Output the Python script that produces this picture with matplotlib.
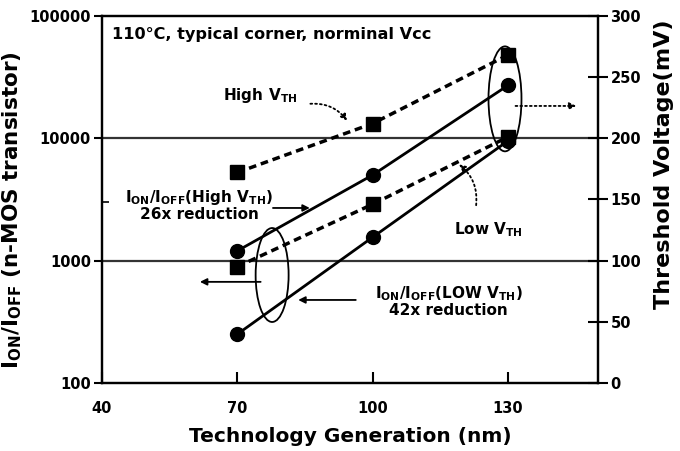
import matplotlib
matplotlib.use('Agg')
import matplotlib.pyplot as plt
from matplotlib.patches import Ellipse

plt.rcParams['font.family'] = ['DejaVu Sans']
plt.rcParams['font.weight'] = 'bold'
plt.rcParams['mathtext.fontset'] = 'custom'
plt.rcParams['mathtext.rm'] = 'DejaVu Sans:bold'
plt.rcParams['mathtext.bf'] = 'DejaVu Sans:bold'
plt.rcParams['mathtext.it'] = 'DejaVu Sans:bold'

# data
gen = [70, 100, 130]
ratio_high_vth = [1200, 5000, 27000]   # I_ON/I_OFF, circles (left axis)
ratio_low_vth = [250, 1550, 9500]
vth_high = [172, 212, 268]             # threshold voltage mV, squares (right axis)
vth_low = [95, 146, 201]

x_ticks = [40, 70, 100, 130]
left_ticks = [100, 1000, 10000, 100000]
right_ticks = [0, 50, 100, 150, 200, 250, 300]

fig = plt.figure(figsize=(6.8, 4.51), dpi=100)
ax = fig.add_axes([0.15, 0.151, 0.7294, 0.8137])
ax.set_yscale('log')
ax.set_xlim(40, 150)
ax.set_ylim(100, 100000)
ax2 = ax.twinx()
ax2.set_ylim(0, 300)

# grid lines
for v in [1000, 10000]:
    ax.axhline(v, color='#333333', lw=1.6, zorder=1)

ax.plot(gen, ratio_high_vth, '-', color='black', lw=2, marker='o', ms=10, zorder=3)
ax.plot(gen, ratio_low_vth, '-', color='black', lw=2, marker='o', ms=10, zorder=3)
ax2.plot(gen, vth_high, '--', color='black', lw=2.5, dashes=(2.2, 1.4), marker='s', ms=10, zorder=3)
ax2.plot(gen, vth_low, '--', color='black', lw=2.5, dashes=(2.2, 1.4), marker='s', ms=10, zorder=3)

for s in ax.spines.values():
    s.set_linewidth(1.6)
for s in ax2.spines.values():
    s.set_linewidth(1.6)

ax.set_xticks(x_ticks)
ax.set_xticklabels([str(t) for t in x_ticks])
ax.set_yticks(left_ticks)
ax.set_yticklabels([str(t) for t in left_ticks])
ax.yaxis.set_minor_locator(matplotlib.ticker.FixedLocator([3000]))
ax.yaxis.set_minor_formatter(matplotlib.ticker.NullFormatter())
ax.xaxis.set_minor_locator(matplotlib.ticker.NullLocator())
ax.tick_params(axis='x', direction='in', length=8, width=1.5, labelsize=10.5, pad=13)
ax.tick_params(axis='y', which='major', direction='out', length=6, width=1.5, labelsize=10.5, pad=2)
ax.tick_params(axis='y', which='minor', direction='in', length=5, width=1.2)
ax2.set_yticks(right_ticks)
ax2.set_yticklabels([str(t) for t in right_ticks])
ax2.tick_params(axis='y', direction='inout', length=14, width=1.5, labelsize=10.5, pad=2)

ax.set_xlabel('Technology Generation (nm)', fontsize=14.5, fontweight='bold', labelpad=8)
ax.set_ylabel(r'I$_\mathrm{ON}$/I$_\mathrm{OFF}$ (n-MOS transistor)', fontsize=15.5, fontweight='bold')
ax.yaxis.set_label_coords(-0.157, 0.47)
ax2.set_ylabel('Threshold Voltage(mV)', fontsize=16, fontweight='bold')
ax2.yaxis.set_label_coords(1.113, 0.597)

# annotations
ax2.text(42.2, 284.5, '110°C, typical corner, norminal Vcc', fontsize=11.6, va='center', ha='left')
ax2.text(75.1, 234.6, r'High V$_\mathrm{TH}$', fontsize=11, va='center', ha='center')
ax2.text(61.6, 145.5, r'I$_\mathrm{ON}$/I$_\mathrm{OFF}$(High V$_\mathrm{TH}$)' + '\n26x reduction',
         fontsize=11, va='center', ha='center', linespacing=1.0)
ax2.text(125.6, 125, r'Low V$_\mathrm{TH}$', fontsize=11, va='center', ha='center')
ax2.text(116.9, 66.6, r'I$_\mathrm{ON}$/I$_\mathrm{OFF}$(LOW V$_\mathrm{TH}$)' + '\n42x reduction',
         fontsize=11, va='center', ha='center', linespacing=1.0)

arrow_solid = dict(arrowstyle='-|>', color='black', lw=1.3, mutation_scale=10)
ax2.annotate('', xy=(61.1, 82.6), xytext=(75.8, 82.6), arrowprops=arrow_solid)
ax2.annotate('', xy=(82.9, 67.8), xytext=(96.9, 67.8), arrowprops=arrow_solid)
ax2.annotate('', xy=(86.7, 143), xytext=(77.3, 143), arrowprops=arrow_solid)
ax2.annotate('', xy=(145.8, 226.4), xytext=(131.1, 226.4),
             arrowprops=dict(arrowstyle='-|>', color='black', lw=1.3, ls=':', mutation_scale=10))
ax2.annotate('', xy=(94.7, 212.5), xytext=(85.6, 228),
             arrowprops=dict(arrowstyle='-|>', color='black', lw=1.3, ls=':', mutation_scale=9,
                             connectionstyle='arc3,rad=-0.3'))
ax2.annotate('', xy=(118.7, 180), xytext=(122.9, 143),
             arrowprops=dict(arrowstyle='-|>', color='black', lw=1.3, ls=':', mutation_scale=9,
                             connectionstyle='arc3,rad=0.3'))

ax.add_patch(Ellipse((0.343, 0.294), 0.0665, 0.256, transform=ax.transAxes,
                     fill=False, ec='black', lw=1.3, zorder=4))
ax.add_patch(Ellipse((0.8125, 0.774), 0.0665, 0.286, transform=ax.transAxes,
                     fill=False, ec='black', lw=1.3, zorder=4))

fig.savefig('out.png', dpi=100)
